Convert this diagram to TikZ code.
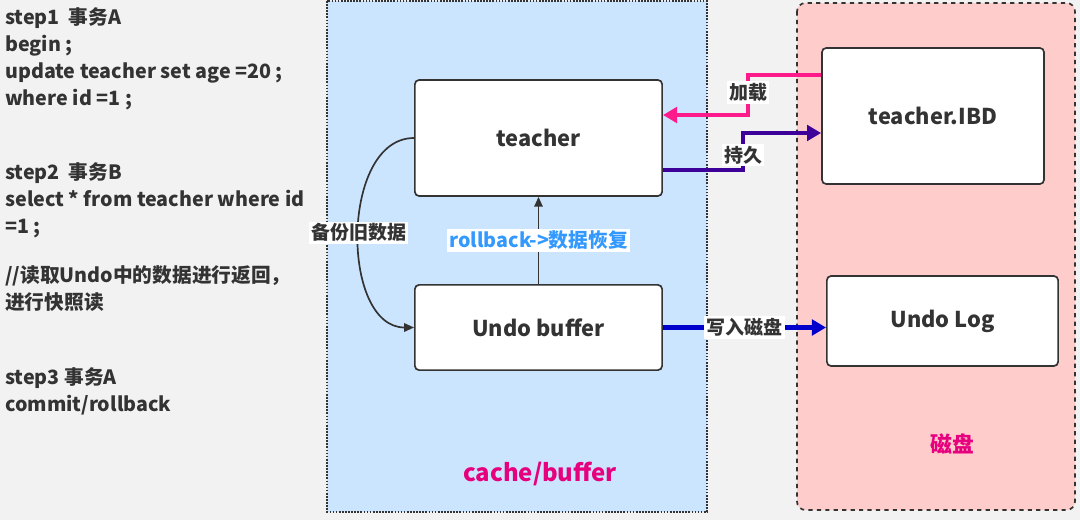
\documentclass[tikz,border=0pt]{standalone}
\usepackage{fontspec}
\setmainfont{Noto Sans CJK SC}
\usetikzlibrary{arrows.meta, positioning}
\definecolor{pagegray}{HTML}{F2F2F2}
\definecolor{panelblue}{HTML}{CCE5FF}
\definecolor{diskpink}{HTML}{FFCCCC}
\definecolor{darktext}{HTML}{333333}
\definecolor{loadpink}{HTML}{FF1A8C}
\definecolor{persistpurple}{HTML}{3D0099}
\definecolor{writeblue}{HTML}{0000CC}
\definecolor{rollblue}{HTML}{3399FF}
\definecolor{tagmagenta}{HTML}{E6007E}

\begin{document}
\begin{tikzpicture}[
  x=0.025cm, y=-0.025cm,
  box/.style={rectangle, rounded corners=3pt, draw=darktext, line width=1.2pt,
              fill=white, text=darktext, font=\bfseries\fontsize{15.5}{18}\selectfont},
  note/.style={anchor=north west, align=left, inner sep=0pt, text=darktext,
               font=\bfseries\fontsize{14}{19.2}\selectfont},
  tag/.style={fill=white, inner sep=1.5pt, text=darktext,
              font=\bfseries\fontsize{13.5}{15}\selectfont},
  area/.style={font=\bfseries\fontsize{16}{18}\selectfont, text=tagmagenta},
  flow/.style={line width=3pt, -{Triangle[length=10pt, width=11pt]}},
  thinflow/.style={line width=1.2pt, draw=darktext, -{Triangle[length=7pt, width=6pt]}},
]
\useasboundingbox (0,0) rectangle (1080,520);
\fill[pagegray] (0,0) rectangle (1080,520);

% memory and disk areas
\draw[darktext, densely dotted, line width=1.2pt, fill=panelblue] (327,1) rectangle (707,512);
\draw[darktext, dashed, line width=1.2pt, rounded corners=6pt, fill=diskpink] (797,3) rectangle (1075,510);

% steps
\node[note] (step1) at (5,7) {step1 \ 事务A\\begin ;\\update teacher set age =20 ;\\where id =1 ;};
\node[note] (step2) at (5,162) {step2 \ 事务B\\select * from teacher where id\\=1 ;};
\node[note] (readnote) at (5,265) {//读取Undo中的数据进行返回，\\进行快照读};
\node[note] (step3) at (5,367) {step3 事务A\\commit/rollback};

% boxes
\node[box, minimum width=6.18cm, minimum height=2.9cm] (teacher) at (538.5,138) {teacher};
\node[box, minimum width=6.18cm, minimum height=2.13cm] (undo) at (538.5,327.5) {Undo buffer};
\node[box, minimum width=5.55cm, minimum height=3.4cm] (ibd) at (933,116) {teacher.IBD};
\node[box, minimum width=5.78cm, minimum height=2.25cm] (undolog) at (942.5,321) {Undo Log};

\node[area, font=\bfseries\fontsize{17}{19}\selectfont] (cachelabel) at (540,474) {cache/buffer};
\node[area, font=\bfseries\fontsize{15.5}{18}\selectfont] (disklabel) at (952,444) {磁盘};

% connectors
\draw[flow, loadpink] (ibd.west |- 0,75) -| node[tag, pos=0.72] {加载} (748,115) -- (teacher.east |- 0,115);
\draw[flow, persistpurple] (teacher.east |- 0,170) -| node[tag, pos=0.7] {持久} (743,133) -- (ibd.west |- 0,133);
\draw[flow, writeblue] (undo.east) -- node[tag] {写入磁盘} (undo.east -| undolog.west);
\draw[thinflow] (undo.north) -- node[tag, text=rollblue, font=\bfseries\fontsize{14}{16}\selectfont] {rollback->数据恢复} (teacher.south);
\draw[thinflow] (teacher.west) to[out=180, in=180, looseness=1] node[tag] {备份旧数据} (undo.west);

\end{tikzpicture}
\end{document}
